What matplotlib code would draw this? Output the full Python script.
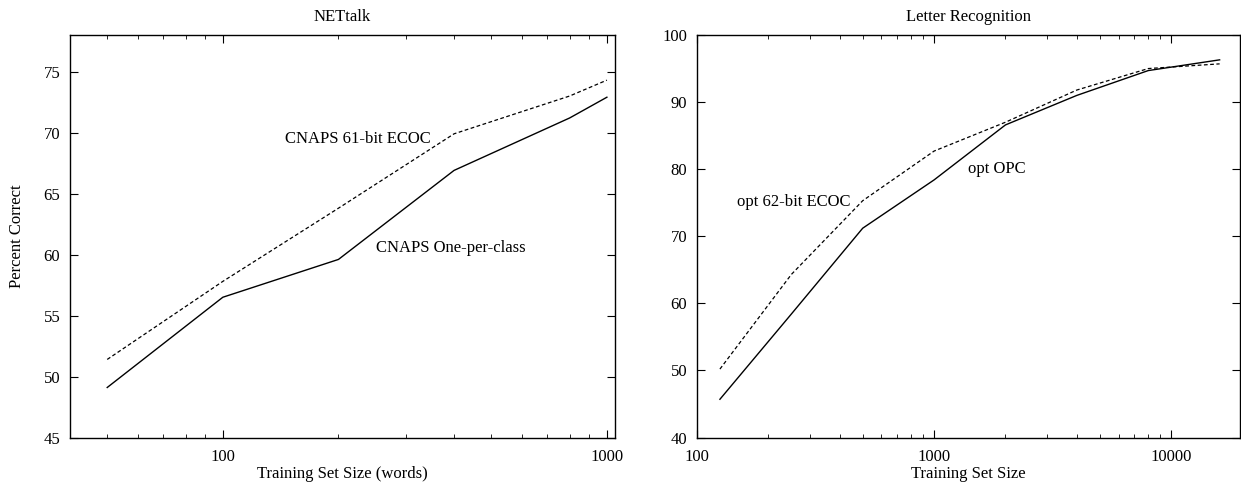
import matplotlib
matplotlib.use("Agg")
import matplotlib.pyplot as plt
from matplotlib.ticker import LogLocator, NullFormatter, FixedLocator, FixedFormatter

plt.rcParams["font.family"] = ["Liberation Serif", "DejaVu Serif"]
plt.rcParams["font.size"] = 12

# NETtalk
net_sizes = [50, 100, 200, 400, 800, 1000]
net_opc = [49.1, 56.5, 59.6, 66.9, 71.2, 72.9]
net_ecoc = [51.4, 57.8, 63.8, 69.9, 73.0, 74.3]

# Letter Recognition
let_sizes = [125, 250, 500, 1000, 2000, 4000, 8000, 16000]
let_opc = [45.7, 58.4, 71.2, 78.4, 86.6, 91.0, 94.7, 96.3]
let_ecoc = [50.2, 64.3, 75.3, 82.7, 87.0, 91.8, 95.0, 95.7]

net_yticks = [45, 50, 55, 60, 65, 70, 75]
let_yticks = [40, 50, 60, 70, 80, 90, 100]

fig = plt.figure(figsize=(12.41, 4.83), dpi=100)
ax1 = fig.add_axes([0.0564, 0.0942, 0.4392, 0.8333])
ax2 = fig.add_axes([0.5616, 0.0942, 0.4376, 0.8333])

dash = (0, (3, 2))


def style_axis(ax, xticks):
    ax.set_xscale("log")
    ax.xaxis.set_major_locator(FixedLocator(xticks))
    ax.xaxis.set_major_formatter(FixedFormatter([str(t) for t in xticks]))
    ax.xaxis.set_minor_locator(LogLocator(base=10, subs=range(2, 10)))
    ax.xaxis.set_minor_formatter(NullFormatter())
    ax.tick_params(which="both", direction="in", top=True, right=True)
    ax.tick_params(which="major", length=6, width=0.8)
    ax.tick_params(which="minor", length=3, width=0.6)
    ax.tick_params(axis="x", pad=8)
    ax.tick_params(axis="y", pad=7)
    for s in ax.spines.values():
        s.set_linewidth(1.0)


ax1.plot(net_sizes, net_opc, color="black", lw=1.0)
ax1.plot(net_sizes, net_ecoc, color="black", lw=0.9, linestyle=dash)
style_axis(ax1, [100, 1000])
ax1.set_xlim(40, 1050)
ax1.set_ylim(45, 78)
ax1.set_yticks(net_yticks)
ax1.set_title("NETtalk", fontsize=12, pad=10)
ax1.set_xlabel("Training Set Size (words)", labelpad=1)
ax1.set_ylabel("Percent Correct", labelpad=13)
ax1.text(145, 69.45, "CNAPS 61-bit ECOC", va="center", ha="left")
ax1.text(250, 60.57, "CNAPS One-per-class", va="center", ha="left")

ax2.plot(let_sizes, let_opc, color="black", lw=1.0)
ax2.plot(let_sizes, let_ecoc, color="black", lw=0.9, linestyle=dash)
style_axis(ax2, [100, 1000, 10000])
ax2.set_xlim(100, 19500)
ax2.set_ylim(40, 100)
ax2.set_yticks(let_yticks)
ax2.set_title("Letter Recognition", fontsize=12, pad=10)
ax2.set_xlabel("Training Set Size", labelpad=1)
ax2.text(147, 75.1, "opt 62-bit ECOC", va="center", ha="left")
ax2.text(1390, 80.0, "opt OPC", va="center", ha="left")

fig.savefig("out.png", dpi=100)
